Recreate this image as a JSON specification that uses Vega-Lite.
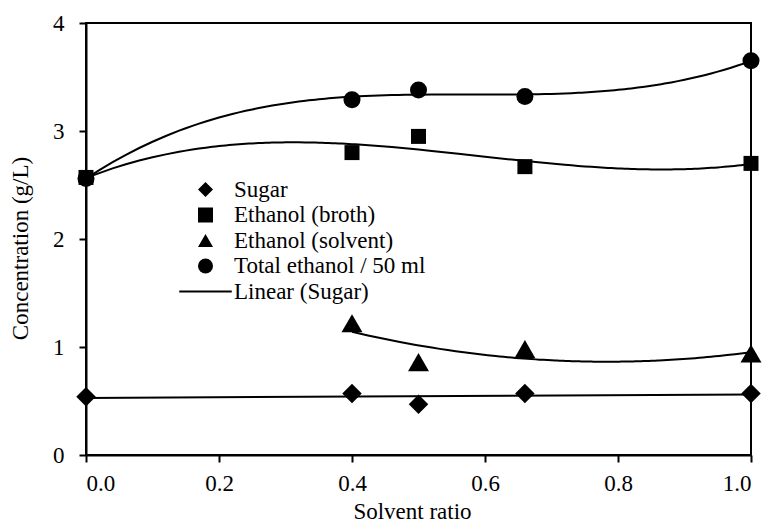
{
  "$schema": "https://vega.github.io/schema/vega-lite/v6.json",
  "width": 665,
  "height": 432,
  "autosize": "none",
  "padding": {"left": 86, "top": 23, "right": 16, "bottom": 72},
  "background": "white",
  "config": {
    "font": "'Liberation Serif'",
    "view": {"stroke": "black", "strokeWidth": 2},
    "axis": {
      "grid": false,
      "domainColor": "black",
      "domainWidth": 2,
      "tickColor": "black",
      "tickWidth": 2,
      "tickSize": 7,
      "labelFont": "'Liberation Serif'",
      "labelFontSize": 23,
      "labelColor": "black",
      "titleFont": "'Liberation Serif'",
      "titleFontSize": 23,
      "titleFontWeight": "normal",
      "titleColor": "black"
    },
    "legend": {"labelFont": "'Liberation Serif'"}
  },
  "data": {
    "values": [
      {"x": 0.0, "y": 0.54, "series": "Sugar"},
      {"x": 0.4, "y": 0.57, "series": "Sugar"},
      {"x": 0.5, "y": 0.47, "series": "Sugar"},
      {"x": 0.66, "y": 0.57, "series": "Sugar"},
      {"x": 1.0, "y": 0.57, "series": "Sugar"},
      {"x": 0.0, "y": 2.57, "series": "Ethanol (broth)"},
      {"x": 0.4, "y": 2.80, "series": "Ethanol (broth)"},
      {"x": 0.5, "y": 2.95, "series": "Ethanol (broth)"},
      {"x": 0.66, "y": 2.67, "series": "Ethanol (broth)"},
      {"x": 1.0, "y": 2.70, "series": "Ethanol (broth)"},
      {"x": 0.4, "y": 1.22, "series": "Ethanol (solvent)"},
      {"x": 0.5, "y": 0.86, "series": "Ethanol (solvent)"},
      {"x": 0.66, "y": 0.98, "series": "Ethanol (solvent)"},
      {"x": 1.0, "y": 0.94, "series": "Ethanol (solvent)"},
      {"x": 0.0, "y": 2.56, "series": "Total ethanol / 50 ml"},
      {"x": 0.4, "y": 3.29, "series": "Total ethanol / 50 ml"},
      {"x": 0.5, "y": 3.38, "series": "Total ethanol / 50 ml"},
      {"x": 0.66, "y": 3.32, "series": "Total ethanol / 50 ml"},
      {"x": 1.0, "y": 3.65, "series": "Total ethanol / 50 ml"}
    ]
  },
  "layer": [
    {
      "transform": [{"filter": "datum.series === 'Sugar'"}, {"regression": "y", "on": "x", "method": "linear"}],
      "mark": {"type": "line", "color": "black", "strokeWidth": 2},
      "encoding": {
        "x": {"field": "x", "type": "quantitative"},
        "y": {"field": "y", "type": "quantitative"}
      }
    },
    {
      "transform": [{"filter": "datum.series === 'Ethanol (broth)'"}, {"regression": "y", "on": "x", "method": "poly", "order": 3}],
      "mark": {"type": "line", "color": "black", "strokeWidth": 2},
      "encoding": {
        "x": {"field": "x", "type": "quantitative"},
        "y": {"field": "y", "type": "quantitative"}
      }
    },
    {
      "transform": [{"filter": "datum.series === 'Ethanol (solvent)'"}, {"regression": "y", "on": "x", "method": "poly", "order": 2}],
      "mark": {"type": "line", "color": "black", "strokeWidth": 2},
      "encoding": {
        "x": {"field": "x", "type": "quantitative"},
        "y": {"field": "y", "type": "quantitative"}
      }
    },
    {
      "transform": [{"filter": "datum.series === 'Total ethanol / 50 ml'"}, {"regression": "y", "on": "x", "method": "poly", "order": 3}],
      "mark": {"type": "line", "color": "black", "strokeWidth": 2},
      "encoding": {
        "x": {"field": "x", "type": "quantitative"},
        "y": {"field": "y", "type": "quantitative"}
      }
    },
    {
      "mark": {"type": "point", "filled": true, "opacity": 1, "color": "black"},
      "encoding": {
        "x": {
          "field": "x", "type": "quantitative",
          "scale": {"domain": [0, 1], "nice": false, "zero": false},
          "axis": {"title": "Solvent ratio", "values": [0, 0.2, 0.4, 0.6, 0.8, 1.0], "format": ".1f", "labelPadding": 10, "titlePadding": 5, "titleX": 326}
        },
        "y": {
          "field": "y", "type": "quantitative",
          "scale": {"domain": [0, 4], "nice": false},
          "axis": {"title": "Concentration (g/L)", "values": [0, 1, 2, 3, 4], "format": "d", "labelPadding": 15, "titlePadding": 20, "titleY": 225}
        },
        "shape": {
          "field": "series", "type": "nominal",
          "scale": {
            "domain": ["Sugar", "Ethanol (broth)", "Ethanol (solvent)", "Total ethanol / 50 ml", "Linear (Sugar)"],
            "range": ["diamond", "square", "triangle-up", "circle", "M-3.5,-0.13H3.5V0.13H-3.5Z"]
          },
          "legend": {
            "title": null,
            "orient": "none",
            "legendX": 108,
            "legendY": 155,
            "padding": 0,
            "labelFontSize": 23,
            "labelColor": "black",
            "labelLimit": 400,
            "labelOffset": 17,
            "rowPadding": 1.5,
            "symbolSize": 225,
            "symbolFillColor": "black",
            "symbolStrokeColor": "black",
            "symbolOpacity": 1
          }
        },
        "size": {
          "field": "series", "type": "nominal",
          "scale": {
            "type": "ordinal",
            "domain": ["Sugar", "Ethanol (broth)", "Ethanol (solvent)", "Total ethanol / 50 ml"],
            "range": [380, 225, 440, 290]
          },
          "legend": null
        }
      }
    }
  ]
}
